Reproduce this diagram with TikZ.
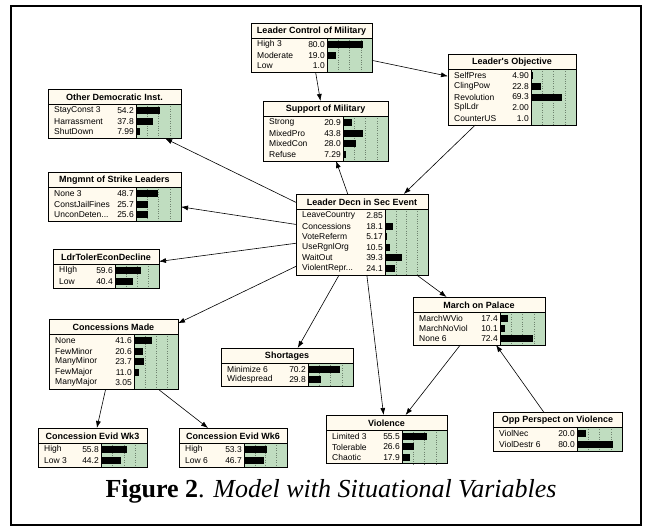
\documentclass[tikz,border=0pt]{standalone}
\usepackage{fontspec}
\setmainfont{Liberation Serif}
\newfontfamily\netfont{Liberation Sans}
\usetikzlibrary{arrows.meta}

\definecolor{nodecream}{RGB}{255,250,238}
\definecolor{bargreen}{RGB}{192,221,192}
\definecolor{gridgray}{RGB}{110,130,110}

\tikzset{
  netbox/.style={draw, line width=0.9pt, inner sep=0pt, outer sep=0pt},
  ttl/.style={font=\netfont\bfseries\fontsize{9}{10}\selectfont, inner sep=0pt},
  lab/.style={font=\netfont\fontsize{8.5}{9}\selectfont, inner sep=0pt},
  link/.style={-{Latex[length=7pt,width=5pt]}, line width=0.6pt},
  gridln/.style={gridgray, dotted, line width=0.4pt}
}

\newcommand{\trunc}{...}
% #1 name, #2 left, #3 top, #4 width, #5 start of bars, #6 rows, #7 row step, #8 title, #9 label/value
\newcommand{\netnode}[9]{%
  \pgfmathsetmacro{\bh}{15+3+#7*#6}
  \pgfmathsetmacro{\gw}{#4-#5}
  \fill[nodecream] (#2,#3) rectangle ++(#4,\bh);
  \fill[bargreen] (#2+#5,#3+15) rectangle (#2+#4,#3+\bh);
  \foreach \t in {0.25,0.5,0.75}
    \draw[gridln] (#2+#5+\t*\gw,#3+15) -- ++(0,\bh-15);
  \draw[line width=0.7pt] (#2+#5,#3+15) -- ++(0,\bh-15);
  \draw[line width=0.7pt] (#2,#3+15) -- ++(#4,0);
  \node[ttl] at (#2+#4/2,#3+7.8) {#8};
  \foreach \lab/\val [count=\i] in {#9} {
    \pgfmathsetmacro{\ry}{#3+16.5+#7*(\i-0.5)}
    \node[lab, anchor=west] at (#2+6,\ry) {\lab};
    \node[lab, anchor=east] at (#2+#5-2,\ry) {\val};
    \fill (#2+#5,\ry-3.5) rectangle ++(\val*\gw/100,7);
  }
  \node[netbox, minimum width=#4pt, minimum height=\bh pt, anchor=north west] (#1) at (#2,#3) {};
}

\begin{document}
\begin{tikzpicture}[x=1pt,y=-1pt]
\useasboundingbox (0,0) rectangle (652,531);
\draw[line width=1.5pt] (11,6) rectangle (641,525);

\netnode{lcm}{251}{23}{121}{76}{3}{10.5}{Leader Control of Military}{High 3/80.0, Moderate/19.0, Low/1.0}
\netnode{obj}{448}{54}{128}{83}{5}{10.6}{Leader's Objective}{SelfPres/4.90, ClingPow/22.8, Revolution/69.3, SplLdr/2.00, CounterUS/1.0}
\netnode{odi}{48}{89}{133}{88}{3}{10.5}{Other Democratic Inst.}{StayConst 3/54.2, Harrassment/37.8, ShutDown/7.99}
\netnode{sup}{263}{101}{125}{80}{4}{10.5}{Support of Military}{Strong/20.9, MixedPro/43.8, MixedCon/28.0, Refuse/7.29}
\netnode{mng}{48}{172}{133}{88}{3}{10.5}{Mngmnt of Strike Leaders}{None 3/48.7, ConstJailFines/25.7, UnconDeten\trunc/25.6}
\netnode{decn}{296}{194}{132}{89}{6}{10.5}{Leader Decn in Sec Event}{LeaveCountry/2.85, Concessions/18.1, VoteReferm/5.17, UseRgnlOrg/10.5, WaitOut/39.3, ViolentRepr\trunc/24.1}
\netnode{ldr}{53}{249}{106}{62}{2}{10.5}{LdrTolerEconDecline}{HIgh/59.6, Low/40.4}
\netnode{cm}{49}{319}{129}{85}{5}{10.5}{Concessions Made}{None/41.6, FewMinor/20.6, ManyMinor/23.7, FewMajor/11.0, ManyMajor/3.05}
\netnode{mar}{413}{297}{132}{87}{3}{10}{March on Palace}{MarchWVio/17.4, MarchNoViol/10.1, None 6/72.4}
\netnode{sho}{221}{348}{132}{87}{2}{10}{Shortages}{Minimize 6/70.2, Widespread/29.8}
\netnode{vio}{326}{415}{121}{76}{3}{10.3}{Violence}{Limited 3/55.5, Tolerable/26.6, Chaotic/17.9}
\netnode{opp}{493}{412}{129}{84}{2}{10.5}{Opp Perspect on Violence}{ViolNec/20.0, ViolDestr 6/80.0}
\netnode{wk3}{38}{428}{109}{63}{2}{10.5}{Concession Evid Wk3}{High/55.8, Low 3/44.2}
\netnode{wk6}{179}{428}{108}{65}{2}{10.5}{Concession Evid Wk6}{High/53.3, Low 6/46.7}

\draw[link] (lcm) -- (obj);
\draw[link] (lcm) -- (sup);
\draw[link] (obj) -- (decn);
\draw[link] (decn) -- (sup);
\draw[link] (decn) -- (odi);
\draw[link] (decn) -- (mng);
\draw[link] (decn) -- (ldr);
\draw[link] (decn) -- (cm);
\draw[link] (decn) -- (mar);
\draw[link] (decn) -- (sho);
\draw[link] (decn) -- (vio);
\draw[link] (mar) -- (vio);
\draw[link] (opp) -- (mar);
\draw[link] (cm) -- (wk3);
\draw[link] (cm) -- (wk6);

\node[font=\fontsize{26}{30}\selectfont, anchor=base] (cap) at (331,497) {\textbf{Figure 2}. \textit{Model with Situational Variables}};
\end{tikzpicture}
\end{document}
